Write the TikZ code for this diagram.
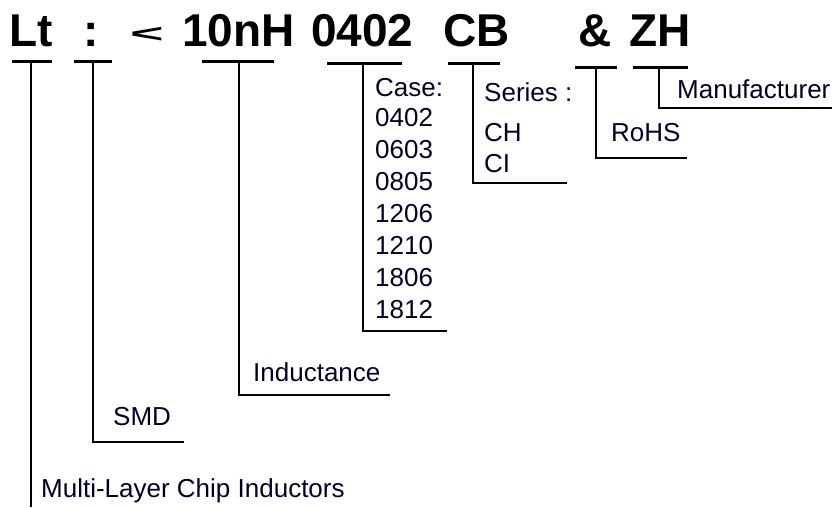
\documentclass[tikz,border=0pt]{standalone}
\usepackage{fontspec}
\setmainfont{Liberation Sans}
\begin{document}
\begin{tikzpicture}[x=1pt,y=-1pt,
  code/.style={anchor=base west,inner sep=0pt,font=\fontsize{46}{50}\selectfont\bfseries},
  lbl/.style={anchor=base west,inner sep=0pt,font=\fontsize{26}{30}\selectfont,text=black!85!blue},
  bar/.style={line width=3pt},
  lead/.style={line width=1.8pt}]
\useasboundingbox (0,0) rectangle (832,507);
% top code tokens
\node[code] (lt) at (9,46.5) {Lt};
\node[code] (colon) at (83,46.5) {:};
\node[code] (lt2) at (130,42.5) {\scalebox{1.25}[0.55]{<}};
\node[code] (ind) at (182,46.5) {10nH};
\node[code] (case) at (311,46.5) {0402};
\node[code] (ser) at (443,46.5) {CB};
\node[code] (amp) at (578,46.5) {\&};
\node[code] (mfr) at (629,46.5) {ZH};
% labels
\node[lbl] (tcase) at (375,96) {Case:};
\node[lbl] (c1) at (375,126) {0402};
\node[lbl] (c2) at (375,158) {0603};
\node[lbl] (c3) at (375,190) {0805};
\node[lbl] (c4) at (375,222) {1206};
\node[lbl] (c5) at (375,254) {1210};
\node[lbl] (c6) at (375,286) {1806};
\node[lbl] (c7) at (375,318) {1812};
\node[lbl] (tser) at (484,101) {Series :};
\node[lbl] (tch) at (484,141) {CH};
\node[lbl] (tci) at (484,172) {CI};
\node[lbl] (tmfr) at (677,98) {Manufacturer};
\node[lbl] (trohs) at (611,141) {RoHS};
\node[lbl] (tind) at (253,381) {Inductance};
\node[lbl] (tsmd) at (113,425) {SMD};
\node[lbl] (tmlc) at (41,497) {Multi-Layer Chip Inductors};
% bar coordinates
\coordinate (ltA) at (12,61);   \coordinate (ltB) at (52,61);   \coordinate (ltM) at (31,61);   \coordinate (ltE) at (31,507);
\coordinate (coA) at (74,61);   \coordinate (coB) at (112,61);  \coordinate (coM) at (93,61);   \coordinate (coD) at (93,442); \coordinate (coE) at (184,442);
\coordinate (inA) at (202,61);  \coordinate (inB) at (274,61);  \coordinate (inM) at (239,61);  \coordinate (inD) at (239,395); \coordinate (inE) at (390,395);
\coordinate (caA) at (327,63);  \coordinate (caB) at (402,63);  \coordinate (caM) at (363,63);  \coordinate (caD) at (363,331); \coordinate (caE) at (447,331);
\coordinate (seA) at (448,63);  \coordinate (seB) at (500,63);  \coordinate (seM) at (473,63);  \coordinate (seD) at (473,183); \coordinate (seE) at (567,183);
\coordinate (amA) at (575,67);  \coordinate (amB) at (617,67);  \coordinate (amM) at (596,67);  \coordinate (amD) at (596,158); \coordinate (amE) at (687,158);
\coordinate (mfA) at (633,67);  \coordinate (mfB) at (688,67);  \coordinate (mfM) at (659,67);  \coordinate (mfD) at (659,108); \coordinate (mfE) at (832,108);
% bars
\foreach \p in {lt,co,in,ca,se,am,mf} \draw[bar] (\p A) -- (\p B);
% leaders
\draw[lead] (ltM) -- (ltE);
\foreach \p in {co,in,ca,se,am,mf} \draw[lead] (\p M) -- (\p D) -- (\p E);
\end{tikzpicture}
\end{document}
